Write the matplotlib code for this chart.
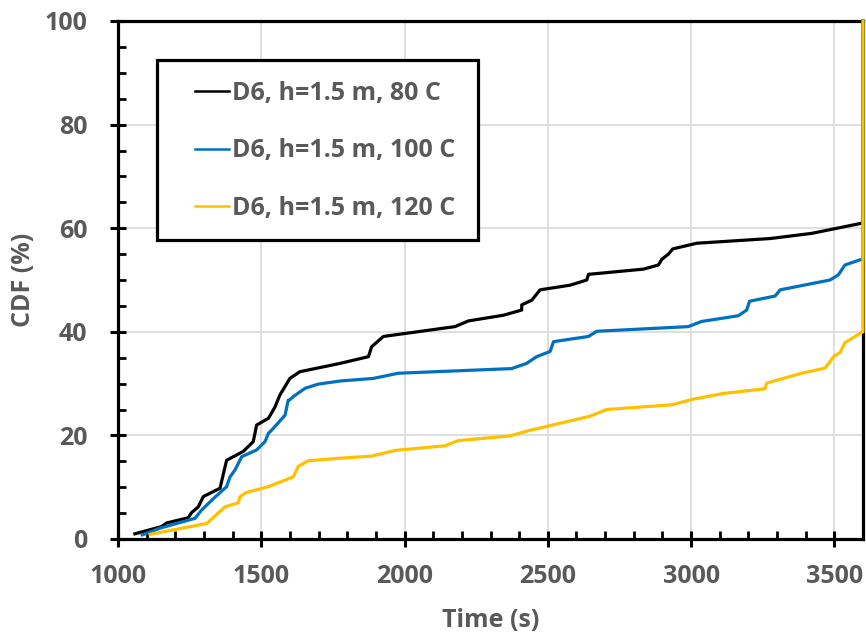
import matplotlib
matplotlib.use("Agg")
import matplotlib.pyplot as plt
from matplotlib.ticker import MultipleLocator
from matplotlib.lines import Line2D
from matplotlib.patches import Rectangle

# ---- data ----
t_80 = [1059, 1152, 1170, 1245, 1257, 1280, 1298, 1356, 1379, 1437, 1472, 1484, 1525, 1548,
        1565, 1600, 1635, 1775, 1874, 1885, 1926, 2176, 2223, 2345, 2409, 2409, 2444, 2473,
        2578, 2636, 2642, 2682, 2834, 2886, 2898, 2921, 2936, 3020, 3275, 3421, 3590, 3600, 3600]
cdf_80 = [1.0, 2.4, 3.1, 4.1, 5.1, 6.2, 8.2, 9.8, 15.2, 16.9, 18.8, 22.0, 23.3, 25.5,
          27.8, 31.0, 32.3, 33.9, 35.2, 37.1, 39.1, 41.0, 42.1, 43.2, 44.2, 45.2, 46.1, 48.1,
          49.0, 50.0, 51.1, 51.3, 52.1, 52.9, 54.0, 55.0, 56.0, 57.1, 58.0, 59.0, 60.9, 61.0, 100]

t_100 = [1085, 1147, 1269, 1292, 1333, 1379, 1391, 1408, 1432, 1484, 1513, 1525, 1536, 1583,
         1594, 1600, 1612, 1653, 1699, 1775, 1891, 1978, 2374, 2426, 2461, 2508, 2520, 2642,
         2671, 2990, 3037, 3165, 3194, 3204, 3293, 3311, 3485, 3514, 3537, 3590, 3600, 3600]
cdf_100 = [0.8, 2.1, 4.0, 5.6, 7.8, 10.1, 12.0, 13.3, 15.9, 17.2, 18.8, 20.4, 21.0, 23.9,
           26.8, 26.9, 27.5, 29.1, 29.9, 30.5, 31.0, 32.0, 32.9, 33.9, 35.2, 36.2, 38.1, 39.1,
           40.1, 41.0, 42.0, 43.1, 44.2, 45.9, 46.9, 48.1, 50.0, 51.0, 52.9, 53.9, 54.0, 100]

t_120 = [1112, 1310, 1373, 1420, 1426, 1449, 1525, 1612, 1629, 1664, 1775, 1885, 1967, 2141,
         2188, 2368, 2432, 2647, 2705, 2932, 3008, 3113, 3258, 3264, 3386, 3468, 3497, 3520,
         3537, 3590, 3600, 3600]
cdf_120 = [0.9, 3.0, 6.2, 7.0, 8.2, 9.0, 10.1, 12.0, 14.0, 15.1, 15.6, 16.0, 17.1, 18.0,
           19.0, 19.9, 20.9, 23.7, 25.0, 25.9, 27.0, 28.1, 29.0, 30.1, 32.0, 33.0, 35.2, 36.0,
           37.9, 39.7, 40.0, 100]

labels = ["D6, h=1.5 m, 80 C", "D6, h=1.5 m, 100 C", "D6, h=1.5 m, 120 C"]
colors = ["#000000", "#0070C0", "#FFC000"]

x_ticks = [1000, 1500, 2000, 2500, 3000, 3500]
y_ticks = [0, 20, 40, 60, 80, 100]

# ---- styling ----
plt.rcParams['font.family'] = ['Open Sans', 'DejaVu Sans']
plt.rcParams['font.weight'] = 'bold'
gray = "#595959"
FS = 18
LFS = 18

fig = plt.figure(figsize=(8.66, 6.37), dpi=100)
ax = fig.add_axes([118/866, (637-539)/637, 745/866, 518/637])

for t, c, col, lab in zip([t_80, t_100, t_120], [cdf_80, cdf_100, cdf_120], colors, labels):
    ax.plot(t, c, color=col, lw=2.3, label=lab, zorder=3, clip_on=False,
            solid_joinstyle='round')

ax.set_xlim(1000, 3600)
ax.set_ylim(0, 100)
ax.set_xticks(x_ticks)
ax.set_yticks(y_ticks)
ax.xaxis.set_minor_locator(MultipleLocator(100))
ax.yaxis.set_minor_locator(MultipleLocator(5))
ax.grid(True, which='major', color='#d9d9d9', lw=1.2, zorder=0)
ax.set_axisbelow(True)

for s in ax.spines.values():
    s.set_linewidth(2.3)
    s.set_color('black')
    s.set_zorder(2.5)

ax.tick_params(which='major', direction='inout', length=12, width=2.2,
               labelsize=FS, labelcolor=gray)
ax.tick_params(axis='x', which='major', pad=12)
ax.tick_params(axis='y', which='major', pad=16)
ax.tick_params(which='minor', direction='in', length=6, width=2.0)
ax.tick_params(top=False, right=False, which='both')

for lbl in ax.get_xticklabels() + ax.get_yticklabels():
    lbl.set_fontweight('bold')

ax.set_xlabel("Time (s)", fontsize=FS, fontweight='bold', color=gray, labelpad=14)
ax.set_ylabel("CDF (%)", fontsize=FS, fontweight='bold', color=gray, labelpad=6)

# legend box (frame drawn separately to match padding)
bx0, bx1 = (157-118)/745, (478-118)/745
by0, by1 = (539-240)/518, (539-60)/518
ax.add_patch(Rectangle((bx0, by0), bx1-bx0, by1-by0, transform=ax.transAxes,
                       facecolor='white', edgecolor='black', lw=2.3, zorder=4))

handles = [Line2D([0], [0], color=col, lw=1.8) for col in colors]
leg = ax.legend(handles, labels, loc='center left',
                bbox_to_anchor=((195-118)/745, (539-151)/518),
                borderaxespad=0, borderpad=0, frameon=False,
                handlelength=1.35, handletextpad=0.12, labelspacing=1.3,
                prop={'weight': 'bold', 'size': LFS})
for txt in leg.get_texts():
    txt.set_color(gray)
leg.set_zorder(5)

fig.savefig("out.png", dpi=100)
